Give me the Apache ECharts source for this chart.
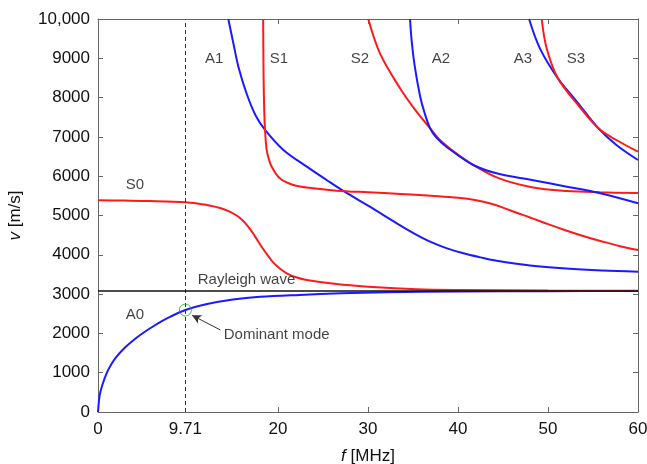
<!DOCTYPE html>
<html>
<head>
<meta charset="utf-8">
<script src="https://cdn.jsdelivr.net/npm/echarts@6/dist/echarts.min.js"></script>
<style>
  html, body { margin: 0; padding: 0; background: #fff; }
  #chart { width: 647px; height: 464px; }
</style>
</head>
<body>
<div id="chart"></div>
<script>
// Lamb-wave dispersion curves: phase velocity v [m/s] against frequency f [MHz]
const modeA0 = [[0,0],[0.2,440],[0.5,700],[1,1010],[1.5,1220],[2,1390],[3,1640],[4,1840],[5,2010],[6,2160],[7,2300],[8,2420],[9.71,2595],[12,2740],[15,2860],[18,2930],[22.4,2980],[27,3020],[32,3045],[40,3065],[50,3074],[60,3078]];
const modeS0 = [[0,5387],[3,5380],[5.78,5369],[9.71,5336],[11.33,5293],[12.5,5250],[13.56,5190],[14.5,5110],[15.4,5000],[16,4890],[16.5,4770],[17,4620],[17.44,4470],[18.37,4140],[19,3940],[19.48,3800],[20.2,3650],[20.96,3530],[22,3430],[23.19,3360],[26.5,3255],[30,3190],[35.4,3125],[40,3105],[50,3090],[60,3085]];
const modeA1 = [[14.48,10000],[15.04,9382],[15.6,8786],[16.5,8110],[17.5,7550],[18.56,7176],[20.6,6667],[23.2,6242],[25.4,5903],[27.4,5605],[30.2,5224],[33.2,4801],[35,4560],[36.9,4334],[38.7,4170],[40.6,4038],[42.5,3935],[44.3,3850],[48,3730],[52,3650],[56,3600],[60,3570]];
const modeS1 = [[18.35,10000],[18.4,8500],[18.48,7600],[18.56,7176],[18.74,6667],[19.0,6420],[19.3,6242],[20.2,5946],[21.7,5776],[23.9,5692],[26.5,5632],[30,5590],[33.6,5550],[37,5500],[40,5450],[42,5390],[43.5,5310],[45,5200],[46.5,5070],[48,4950],[50,4780],[52,4620],[54,4470],[56,4340],[58,4220],[60,4122]];
const modeS2 = [[30.03,10000],[31.33,9127],[33.56,8237],[35.2,7700],[36.9,7219],[38,6921],[39.8,6580],[41.7,6285],[44.5,5950],[48.2,5720],[52.1,5623],[55.8,5590],[60,5570]];
const modeA2 = [[34.67,10000],[34.85,9450],[35.2,8786],[35.8,8023],[36.3,7600],[36.9,7219],[37.6,6980],[38.7,6751],[41.7,6285],[44.5,6060],[48.2,5903],[52.1,5733],[55.8,5565],[60,5310]];
const modeA3 = [[47.9,10000],[49.1,9254],[51.1,8490],[53.2,7900],[55.6,7219],[57.6,6794],[60,6412]];
const modeS3 = [[49.3,10000],[49.85,9254],[51.1,8490],[53.2,7850],[55.6,7219],[57.6,6921],[60,6624]];

const rayleighVelocity = 3080;
const dominantFreq = 9.71;
const dominantPoint = [9.71, 2595];

const xTickLabels = [0, 9.71, 20, 30, 40, 50, 60];
const xTickMarks = [20, 30, 40, 50];
const yTickValues = [0, 1000, 2000, 3000, 4000, 5000, 6000, 7000, 8000, 9000, 10000];

// Mode names and where their text sits, in data units
const modeLabels = [
  { name: 'A1', at: [12.9, 8990] },
  { name: 'S1', at: [20.1, 8990] },
  { name: 'S2', at: [29.1, 8990] },
  { name: 'A2', at: [38.1, 8990] },
  { name: 'A3', at: [47.2, 8990] },
  { name: 'S3', at: [53.1, 8990] },
  { name: 'S0', at: [4.1, 5776] },
  { name: 'A0', at: [4.1, 2468] },
  { name: 'Rayleigh wave', at: [16.5, 3359] },
  { name: 'Dominant mode', at: [19.85, 1959] }
];
const arrowFrom = [13.6, 2087];
const arrowTo = [10.45, 2460];

const FONT = '"Liberation Sans", Arial, Helvetica, sans-serif';
const BLUE = '#1a1aff';
const RED = '#ff1a1a';
const AXIS = '#666666';

function curve(data, color) {
  return {
    type: 'line',
    data: data,
    smooth: 0.35,
    showSymbol: false,
    symbol: 'none',
    silent: true,
    lineStyle: { color: color, width: 2 },
    z: 3
  };
}

const chart = echarts.init(document.getElementById('chart'), null, { renderer: 'canvas' });

const option = {
  animation: false,
  backgroundColor: '#ffffff',
  textStyle: { fontFamily: FONT },
  grid: { left: 98, right: 9, top: 19, bottom: 52, containLabel: false, outerBoundsMode: 'none' },
  xAxis: [
    {
      type: 'value', min: 0, max: 60, position: 'bottom',
      name: '{i|f} [MHz]', nameLocation: 'middle', nameGap: 36,
      nameTextStyle: { fontFamily: FONT, fontSize: 17, color: '#111',
        rich: { i: { fontFamily: FONT, fontSize: 17, fontStyle: 'italic', color: '#111' } } },
      axisLine: { show: true, onZero: false, lineStyle: { color: AXIS, width: 1 } },
      axisTick: { show: true, inside: true, length: 5, customValues: xTickMarks, lineStyle: { color: AXIS } },
      axisLabel: { show: true, customValues: xTickLabels, margin: 9, fontFamily: FONT, fontSize: 17, color: '#111',
        formatter: v => String(v) },
      splitLine: { show: false }
    },
    {
      type: 'value', min: 0, max: 60, position: 'top',
      axisLine: { show: true, onZero: false, lineStyle: { color: AXIS, width: 1 } },
      axisTick: { show: true, inside: true, length: 5, customValues: xTickMarks, lineStyle: { color: AXIS } },
      axisLabel: { show: false },
      splitLine: { show: false }
    }
  ],
  yAxis: [
    {
      type: 'value', min: 0, max: 10000, interval: 1000, position: 'left',
      name: '{i|v} [m/s]', nameLocation: 'middle', nameGap: 74, nameRotate: 90,
      nameTextStyle: { fontFamily: FONT, fontSize: 17, color: '#111',
        rich: { i: { fontFamily: FONT, fontSize: 17, fontStyle: 'italic', color: '#111' } } },
      axisLine: { show: true, onZero: false, lineStyle: { color: AXIS, width: 1 } },
      axisTick: { show: true, inside: true, length: 5, lineStyle: { color: AXIS } },
      axisLabel: { show: true, customValues: yTickValues, margin: 8, fontFamily: FONT, fontSize: 17, color: '#111',
        formatter: v => v >= 10000 ? v.toLocaleString('en-US') : String(v) },
      splitLine: { show: false }
    },
    {
      type: 'value', min: 0, max: 10000, interval: 1000, position: 'right',
      axisLine: { show: true, onZero: false, lineStyle: { color: AXIS, width: 1 } },
      axisTick: { show: true, inside: true, length: 5, lineStyle: { color: AXIS } },
      axisLabel: { show: false },
      splitLine: { show: false }
    }
  ],
  series: [
    // reference lines: dashed dominant frequency, Rayleigh velocity, arrow to the dominant mode
    {
      type: 'line', data: [], silent: true,
      markLine: {
        silent: true, animation: false,
        symbol: ['none', 'none'],
        label: { show: false },
        data: [
          { xAxis: dominantFreq, lineStyle: { color: '#333', type: [4, 3], width: 1 } },
          { yAxis: rayleighVelocity, lineStyle: { color: '#111', type: 'solid', width: 1.6 } }
        ]
      },
      z: 2
    },
    {
      type: 'line', data: [], silent: true,
      markLine: {
        silent: true, animation: false,
        symbol: ['none', 'arrow'], symbolSize: [7, 9],
        label: { show: false },
        lineStyle: { color: '#333', type: 'solid', width: 1 },
        data: [[{ coord: arrowFrom }, { coord: arrowTo }]]
      },
      z: 5
    },
    curve(modeA0, BLUE),
    curve(modeS0, RED),
    curve(modeA1, BLUE),
    curve(modeS1, RED),
    curve(modeS2, RED),
    curve(modeA2, BLUE),
    curve(modeA3, BLUE),
    curve(modeS3, RED),
    {
      type: 'scatter', data: [dominantPoint], symbol: 'circle', symbolSize: 12, silent: true,
      itemStyle: { color: 'rgba(0,0,0,0)', borderColor: '#2e9e48', borderWidth: 1 },
      z: 6
    },
    {
      type: 'scatter', silent: true, symbolSize: 0,
      data: modeLabels.map(m => ({ value: m.at, name: m.name })),
      label: {
        show: true, position: 'inside', formatter: p => p.name,
        fontFamily: FONT, fontSize: 15, color: '#111'
      },
      z: 7
    }
  ]
};

chart.setOption(option);
</script>
</body>
</html>
